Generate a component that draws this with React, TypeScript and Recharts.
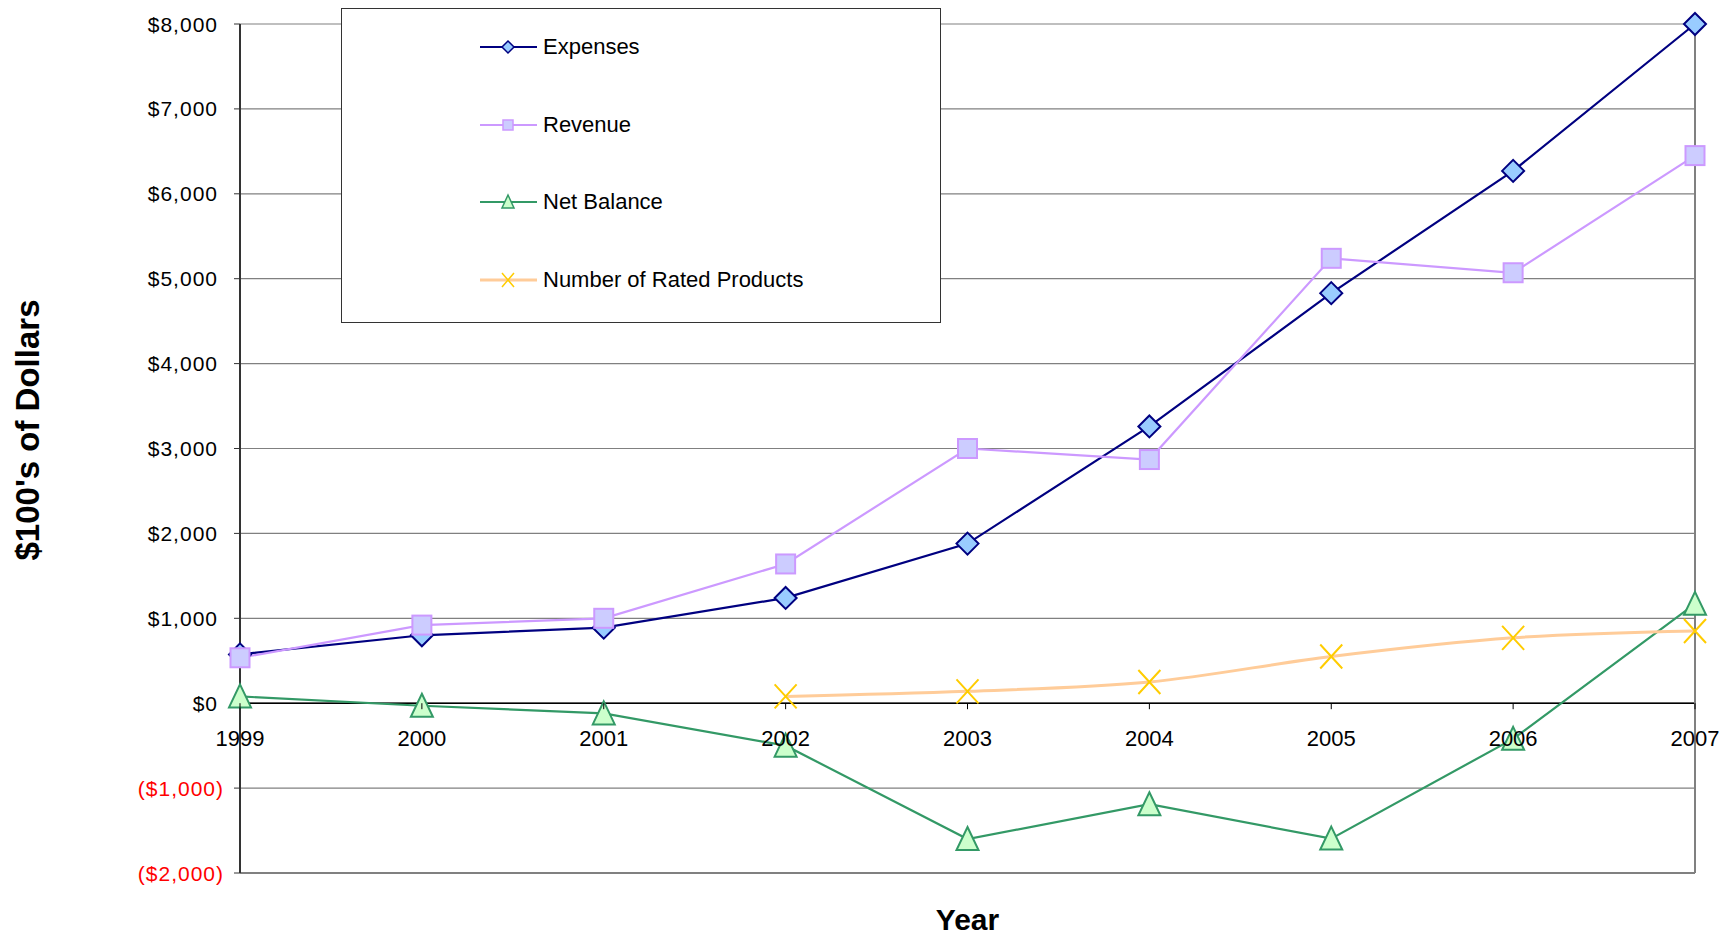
import React from 'react';
import { LineChart, Line, XAxis, YAxis, CartesianGrid, ReferenceLine, Legend } from 'recharts';

document.body.style.margin = '0';

const years = ['1999', '2000', '2001', '2002', '2003', '2004', '2005', '2006', '2007'];
const expenses = [575, 800, 890, 1240, 1880, 3260, 4830, 6270, 8000];
const revenue = [535, 920, 1000, 1640, 3000, 2870, 5240, 5070, 6450];
const netBalance = [80, -30, -120, -500, -1600, -1190, -1595, -420, 1170];
const ratedProducts = [null, null, null, 80, 140, 250, 550, 770, 850];
const yTicks = [-2000, -1000, 0, 1000, 2000, 3000, 4000, 5000, 6000, 7000, 8000];

const data = years.map((year, i) => ({
  year,
  expenses: expenses[i],
  revenue: revenue[i],
  net: netBalance[i],
  rated: ratedProducts[i],
}));

const W = 1734;
const H = 939;
const TOP = 24;
const BOTTOM_AXIS = 66;
const PLOT_H = H - TOP - BOTTOM_AXIS;
const Y_MIN = -2000;
const Y_MAX = 8000;
const ZERO_Y = TOP + (PLOT_H * Y_MAX) / (Y_MAX - Y_MIN);
const FONT = 'Arial, "Liberation Sans", sans-serif';

const Diamond = ({ cx, cy, r = 11, sw = 2 }: any) =>
  cx == null || cy == null ? null : (
    <path
      d={`M${cx},${cy - r} L${cx + r},${cy} L${cx},${cy + r} L${cx - r},${cy} Z`}
      fill="#99CCFF"
      stroke="#000080"
      strokeWidth={sw}
    />
  );

const Square = ({ cx, cy, s = 19, sw = 2 }: any) =>
  cx == null || cy == null ? null : (
    <rect x={cx - s / 2} y={cy - s / 2} width={s} height={s} fill="#CCCCFF" stroke="#CC99FF" strokeWidth={sw} />
  );

const Triangle = ({ cx, cy, s = 11, sw = 2 }: any) =>
  cx == null || cy == null ? null : (
    <path
      d={`M${cx},${cy - s - 1} L${cx + s},${cy + s} L${cx - s},${cy + s} Z`}
      fill="#CCFFCC"
      stroke="#339966"
      strokeWidth={sw}
    />
  );

const Cross = ({ cx, cy, s = 11, sw = 2 }: any) =>
  cx == null || cy == null ? null : (
    <path
      d={`M${cx - s},${cy - s - 1} L${cx + s},${cy + s + 1} M${cx + s},${cy - s - 1} L${cx - s},${cy + s + 1}`}
      stroke="#FFCC00"
      strokeWidth={sw}
      fill="none"
    />
  );

const series = [
  { key: 'expenses', name: 'Expenses', color: '#000080', Mark: Diamond },
  { key: 'revenue', name: 'Revenue', color: '#CC99FF', Mark: Square },
  { key: 'net', name: 'Net Balance', color: '#339966', Mark: Triangle },
  { key: 'rated', name: 'Number of Rated Products', color: '#FFCC99', Mark: Cross },
];

const fmtMoney = (v: number) => {
  const s = '$' + Math.abs(v).toLocaleString('en-US');
  return v < 0 ? `(${s})` : s;
};

const YTick = ({ x, y, payload }: any) => {
  const neg = payload.value < 0;
  return (
    <text
      x={x - (neg ? 8 : 14)}
      y={y}
      dy="0.36em"
      textAnchor="end"
      fontSize={21}
      letterSpacing={1}
      fontFamily={FONT}
      fill={neg ? '#FF0000' : '#000'}
    >
      {fmtMoney(payload.value)}
    </text>
  );
};

const XTick = ({ x, payload }: any) => (
  <g>
    <line x1={x} x2={x} y1={ZERO_Y} y2={ZERO_Y + 6} stroke="#000" />
    <text x={x} y={ZERO_Y + 43} textAnchor="middle" fontSize={22} fontFamily={FONT} fill="#000">
      {payload.value}
    </text>
  </g>
);

const LegendBox = () => (
  <div
    style={{
      boxSizing: 'border-box',
      width: 600,
      height: 315,
      border: '1.5px solid #333',
      background: '#fff',
      position: 'relative',
      fontFamily: FONT,
    }}
  >
    {series.map((s, i) => {
      const Mark = s.Mark;
      return (
        <div
          key={s.key}
          style={{ position: 'absolute', left: 136, top: 38 + i * 77.5 - 14, height: 28, display: 'flex', alignItems: 'center' }}
        >
          <svg width={60} height={28}>
            <line x1={2} x2={59} y1={14} y2={14} stroke={s.color} strokeWidth={s.key === 'rated' ? 3 : 2} />
            <Mark cx={30} cy={14} r={6} s={s.key === 'revenue' ? 10 : 6} sw={1.5} />
          </svg>
          <span style={{ fontSize: 22, marginLeft: 5, color: '#000', whiteSpace: 'nowrap' }}>{s.name}</span>
        </div>
      );
    })}
  </div>
);

export default function App() {
  return (
    <div style={{ position: 'relative', width: W, height: H, background: '#fff' }}>
      <LineChart width={W} height={H} data={data} margin={{ top: TOP, right: 39, bottom: 0, left: 0 }}>
        <CartesianGrid vertical={false} stroke="#808080" strokeWidth={1.2} />
        <XAxis
          dataKey="year"
          height={BOTTOM_AXIS}
          axisLine={{ stroke: '#808080', strokeWidth: 2 }}
          tickLine={false}
          tick={<XTick />}
          interval={0}
          label={{ value: 'Year', position: 'insideBottom', offset: 9, fontSize: 30, fontWeight: 'bold', fontFamily: FONT, fill: '#000' }}
        />
        <YAxis
          width={240}
          domain={[Y_MIN, Y_MAX]}
          ticks={yTicks}
          interval={0}
          axisLine={{ stroke: '#333', strokeWidth: 2 }}
          tickLine={{ stroke: '#333' }}
          tickSize={6}
          tick={<YTick />}
        />
        <ReferenceLine y={0} stroke="#000" strokeWidth={1.5} />
        <ReferenceLine x="2007" stroke="#808080" strokeWidth={2} />
        <Legend
          layout="vertical"
          align="center"
          verticalAlign="middle"
          content={<LegendBox />}
          wrapperStyle={{ left: 341, top: 8, width: 600, height: 315 }}
        />
        <Line
          type="linear"
          dataKey="expenses"
          name="Expenses"
          stroke="#000080"
          strokeWidth={2.2}
          dot={(p: any) => <Diamond key={p.index} cx={p.cx} cy={p.cy} />}
          isAnimationActive={false}
        />
        <Line
          type="linear"
          dataKey="revenue"
          name="Revenue"
          stroke="#CC99FF"
          strokeWidth={2.2}
          dot={(p: any) => <Square key={p.index} cx={p.cx} cy={p.cy} />}
          isAnimationActive={false}
        />
        <Line
          type="linear"
          dataKey="net"
          name="Net Balance"
          stroke="#339966"
          strokeWidth={2.2}
          dot={(p: any) => <Triangle key={p.index} cx={p.cx} cy={p.cy} />}
          isAnimationActive={false}
        />
        <Line
          type="monotone"
          dataKey="rated"
          name="Number of Rated Products"
          stroke="#FFCC99"
          strokeWidth={3}
          connectNulls={false}
          dot={(p: any) => <Cross key={p.index} cx={p.cx} cy={p.cy} />}
          isAnimationActive={false}
        />
      </LineChart>
      <div
        style={{
          position: 'absolute',
          left: 28,
          top: 430,
          transform: 'translate(-50%, -50%) rotate(-90deg)',
          fontFamily: FONT,
          fontWeight: 'bold',
          fontSize: 33,
          whiteSpace: 'nowrap',
          color: '#000',
        }}
      >
        $100's of Dollars
      </div>
    </div>
  );
}
